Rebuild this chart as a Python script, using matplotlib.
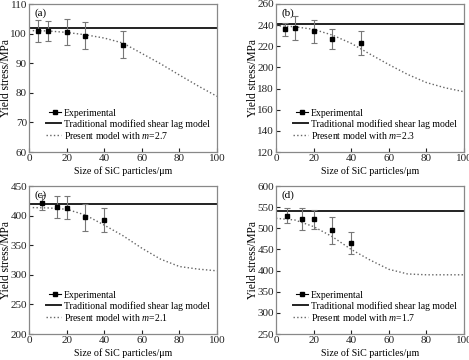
import numpy as np
import matplotlib
matplotlib.use("Agg")
import matplotlib.pyplot as plt
from matplotlib.legend_handler import HandlerLine2D
from matplotlib.lines import Line2D

plt.rcParams["font.family"] = ["Liberation Serif", "DejaVu Serif"]
plt.rcParams["mathtext.fontset"] = "custom"
plt.rcParams["mathtext.it"] = "Liberation Serif:italic"
plt.rcParams["mathtext.rm"] = "Liberation Serif"

LABELS = ["(a)", "(b)", "(c)", "(d)"]
M_VALUES = ["2.7", "2.3", "2.1", "1.7"]
YLIMS = [(60, 110), (120, 260), (200, 450), (250, 600)]
YSTEPS = [10, 20, 50, 50]

# experimental points: size (um), yield stress, error
exp_x = [[5, 10, 20, 30, 50], [5, 10, 20, 30, 45],
         [7, 15, 20, 30, 40], [6, 14, 20, 30, 40]]
exp_y = [[101.0, 100.8, 100.5, 99.3, 96.2], [236, 237.5, 234, 227, 223],
         [422, 415, 413, 397, 393], [530, 522, 521, 495, 465]]
exp_err = [[3.7, 3.4, 4.5, 4.5, 4.6], [6.5, 11.5, 10.5, 9.5, 11],
           [12.5, 18.5, 19.5, 23, 20.5], [17, 26, 22.5, 32.5, 26]]

# traditional modified shear lag model (constant)
trad = [102.0, 241.5, 420.0, 540.0]

# present model curves
model_x = [[2, 10, 20, 30, 40, 50, 60, 70, 80, 90, 100],
           [0, 10, 20, 30, 40, 50, 60, 70, 80, 90, 100],
           [2, 10, 20, 30, 40, 50, 60, 70, 80, 90, 100],
           [0, 10, 20, 30, 40, 50, 60, 70, 80, 90, 100]]
model_y = [[101.0, 100.9, 100.4, 99.6, 98.5, 96.8, 93.3, 89.8, 86.0, 82.3, 78.8],
           [239.5, 238.5, 236, 230.6, 222.8, 212.6, 202.7, 193.4, 185.7, 180.7, 177],
           [413.5, 413, 410.7, 401, 384, 366, 345, 326.4, 314, 309.6, 306.7],
           [523.6, 519.6, 504, 480, 450, 425, 403, 392, 390, 390, 390]]


class MarkerLeft(HandlerLine2D):
    # "■—" style handle: marker at the left end of the line
    def get_xdata(self, legend, xdescent, ydescent, width, height, fontsize):
        xdata, _ = super().get_xdata(legend, xdescent, ydescent, width, height, fontsize)
        return [xdata[0] + 2, xdata[-1]], [xdata[0] + 2]


W, H = 469, 360
fig = plt.figure(figsize=(W / 100, H / 100), dpi=100)
lefts = [29, 276, 29, 276]
tops = [4, 4, 186, 186]
aw, ah = 188, 148

for i in range(4):
    ax = fig.add_axes([lefts[i] / W, 1 - (tops[i] + ah) / H, aw / W, ah / H])
    ax.errorbar(exp_x[i], exp_y[i], yerr=exp_err[i], fmt="none", ecolor="#777777",
                elinewidth=0.8, capsize=2, capthick=0.8, zorder=3)
    ax.plot(exp_x[i], exp_y[i], "s", color="black", ms=3.5, zorder=4)
    ax.axhline(trad[i], color="#222222", lw=1.4, zorder=2)
    ax.plot(model_x[i], model_y[i], ":", color="#666666", lw=1.0, zorder=2)

    ax.set_xlim(0, 100)
    ax.set_ylim(*YLIMS[i])
    ax.set_xticks(range(0, 101, 20))
    ax.set_yticks(np.arange(YLIMS[i][0], YLIMS[i][1] + 1, YSTEPS[i]))
    ax.tick_params(direction="in", length=3, width=0.8, labelsize=8, pad=1.5,
                   colors="#222222")
    for s in ax.spines.values():
        s.set_color("#888888")
        s.set_linewidth(0.9)
    ax.set_xlabel("Size of SiC particles/μm", fontsize=7.2, labelpad=2)
    ax.set_ylabel("Yield stress/MPa", fontsize=8.3)
    ax.yaxis.set_label_coords(-0.093, 0.5)
    ax.text(0.03, 0.97, LABELS[i], transform=ax.transAxes, fontsize=8, va="top", ha="left")

    h1 = Line2D([], [], color="black", marker="s", ms=3, lw=0.8)
    h2 = Line2D([], [], color="#222222", lw=1.4)
    h3 = Line2D([], [], color="#666666", lw=1.0, ls=":")
    ax.legend([h1, h2, h3],
              ["Experimental", "Traditional modified shear lag model",
               "Present model with $m$=" + M_VALUES[i]],
              loc="lower left", bbox_to_anchor=(0.09, 0.075), frameon=False,
              fontsize=7, handlelength=1.5, handletextpad=0.35, labelspacing=0.12,
              borderpad=0, borderaxespad=0, handler_map={h1: MarkerLeft(numpoints=1)})

fig.savefig("out.png", dpi=100)
